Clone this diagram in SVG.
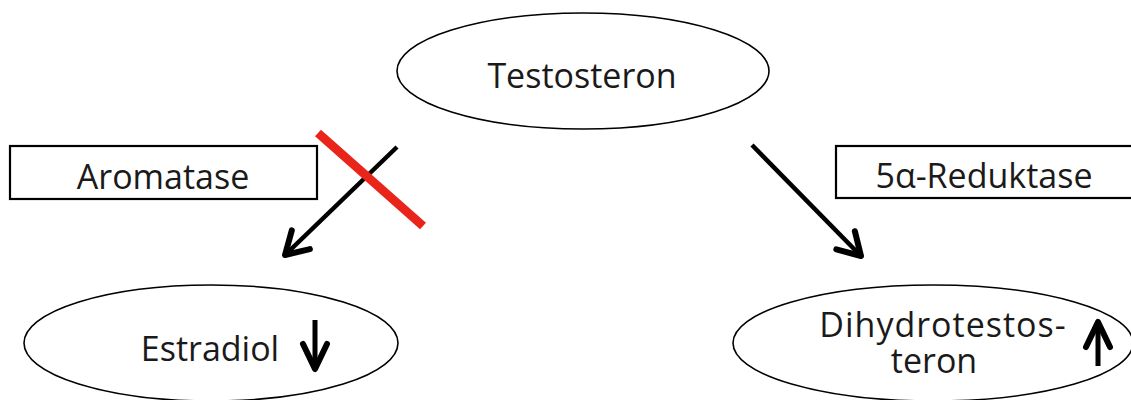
<svg xmlns="http://www.w3.org/2000/svg" width="1131" height="400" viewBox="0 0 1131 400">
  <style>
    .node { fill: #fff; stroke: #000; stroke-width: 1.6; }
    .box { fill: #fff; stroke: #000; stroke-width: 2.2; }
    .label { font-family: "Open Sans", "Liberation Sans", sans-serif; font-size: 34px; fill: #1a1a1a; text-anchor: middle; }
    .conn { fill: none; stroke: #000; stroke-width: 4.5; }
    .trend { fill: none; stroke: #000; stroke-width: 5; }
    .block { stroke: #e8241b; stroke-width: 9; }
  </style>
  <defs>
    <marker id="head" markerUnits="userSpaceOnUse" viewBox="-28 -20 32 40" refX="0" refY="0" markerWidth="32" markerHeight="40" orient="auto" overflow="visible">
      <path d="M-22,-13 L0,0 L-22,13" fill="none" stroke="#000" stroke-width="6" stroke-linecap="round" stroke-linejoin="round"/>
    </marker>
    <marker id="small" markerUnits="userSpaceOnUse" viewBox="-30 -16 34 32" refX="0" refY="0" markerWidth="34" markerHeight="32" orient="auto" overflow="visible">
      <path d="M-25,-12 L0,0 L-25,12" fill="none" stroke="#000" stroke-width="6" stroke-linecap="round" stroke-linejoin="round"/>
    </marker>
  </defs>

  <rect width="1131" height="400" fill="#fff"/>

  <!-- substrate -->
  <g id="testosteron">
    <ellipse class="node" cx="583" cy="71" rx="186" ry="58"/>
    <text class="label" x="582" y="88">Testosteron</text>
  </g>

  <!-- enzymes -->
  <g id="aromatase">
    <rect class="box" x="10" y="146" width="307" height="53"/>
    <text class="label" x="163" y="189">Aromatase</text>
  </g>
  <g id="reduktase">
    <rect class="box" x="836" y="146" width="300" height="52"/>
    <text class="label" x="984" y="188">5α-Reduktase</text>
  </g>

  <!-- products -->
  <g id="estradiol">
    <ellipse class="node" cx="211" cy="343" rx="187" ry="58"/>
    <text class="label" x="210" y="361">Estradiol</text>
    <line class="trend" x1="315" y1="320" x2="315" y2="369" marker-end="url(#small)"/>
  </g>
  <g id="dihydrotestosteron">
    <ellipse class="node" cx="933" cy="343" rx="200" ry="58"/>
    <text class="label"><tspan x="943" y="337" letter-spacing="1">Dihydrotestos-</tspan><tspan x="934" y="373">teron</tspan></text>
    <line class="trend" x1="1098" y1="366" x2="1098" y2="322" marker-end="url(#small)"/>
  </g>

  <!-- conversions -->
  <g id="connectors">
    <line class="conn" x1="397" y1="147" x2="285" y2="255" marker-end="url(#head)"/>
    <line class="conn" x1="752" y1="145" x2="861" y2="256" marker-end="url(#head)"/>
    <line class="block" x1="318" y1="133" x2="423" y2="226"/>
  </g>
</svg>
